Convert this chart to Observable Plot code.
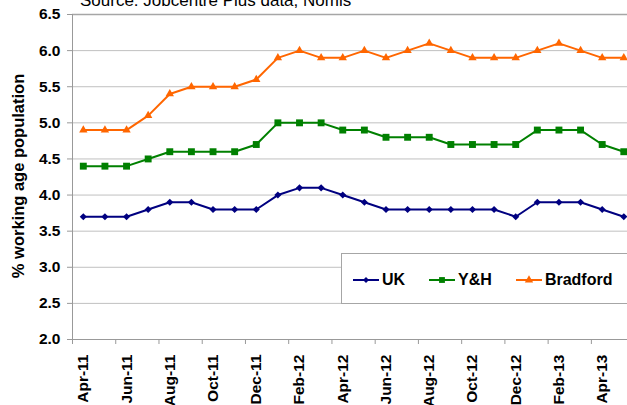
<!DOCTYPE html>
<html><head><meta charset="utf-8">
<script src="https://cdn.jsdelivr.net/npm/d3@7"></script>
<script src="https://cdn.jsdelivr.net/npm/@observablehq/plot@0.6"></script>
<style>
body{margin:0;background:#fff;font-family:"Liberation Sans",Arial,sans-serif;}
#wrap{position:relative;width:627px;height:405px;overflow:hidden;background:#fff;}
#title{position:absolute;left:80px;top:-8px;font-size:17px;line-height:17px;white-space:nowrap;color:#000;}
#chart{position:absolute;left:0;top:0;}
#legend{position:absolute;left:341px;top:253px;width:287px;height:51px;box-sizing:border-box;border:1px solid #a6a6a6;background:#fff;display:flex;align-items:center;padding-left:11px;padding-top:2px;gap:24px;font-weight:bold;font-size:16px;color:#000;}
.item{display:flex;align-items:center;gap:3px;}
</style></head><body>
<div id="wrap"><div id="chart"></div><div id="title"></div><div id="legend"></div></div>
<script>
const titleText = "Source: Jobcentre Plus data, Nomis";
const yTitle = "% working age population";
const months = ["Apr-11","May-11","Jun-11","Jul-11","Aug-11","Sep-11","Oct-11","Nov-11","Dec-11",
  "Jan-12","Feb-12","Mar-12","Apr-12","May-12","Jun-12","Jul-12","Aug-12","Sep-12","Oct-12","Nov-12","Dec-12",
  "Jan-13","Feb-13","Mar-13","Apr-13","May-13"];
const uk = [3.7,3.7,3.7,3.8,3.9,3.9,3.8,3.8,3.8,4.0,4.1,4.1,4.0,3.9,3.8,3.8,3.8,3.8,3.8,3.8,3.7,3.9,3.9,3.9,3.8,3.7];
const yh = [4.4,4.4,4.4,4.5,4.6,4.6,4.6,4.6,4.7,5.0,5.0,5.0,4.9,4.9,4.8,4.8,4.8,4.7,4.7,4.7,4.7,4.9,4.9,4.9,4.7,4.6];
const bradford = [4.9,4.9,4.9,5.1,5.4,5.5,5.5,5.5,5.6,5.9,6.0,5.9,5.9,6.0,5.9,6.0,6.1,6.0,5.9,5.9,5.9,6.0,6.1,6.0,5.9,5.9];
const seriesNames = ["UK","Y&H","Bradford"];
const seriesValues = [uk, yh, bradford];
const colors = ["#000080","#008000","#FF6600"];
const symbols = ["diamond2","square","triangle"];
const radii = [3.2, 3.9, 3.1];
const yTicks = [2.0,2.5,3.0,3.5,4.0,4.5,5.0,5.5,6.0,6.5];

const rows = [];
seriesNames.forEach((s, k) => seriesValues[k].forEach((v, i) => rows.push({series: s, i, value: v})));

const labelIdx = months.map((m, i) => i).filter(i => i % 2 === 0);
const boundaryTicks = labelIdx.map(i => i - 0.5);
const step = 21.62;
const left = 72;

const font = '"Liberation Sans", Arial, sans-serif';
const marks = [
  Plot.gridY(yTicks, {stroke: "#c0c0c0", strokeOpacity: 1}),
  Plot.ruleY([6.5], {stroke: "#a6a6a6", strokeWidth: 1.6}),
  Plot.ruleY([2], {stroke: "#999"}),
  Plot.ruleX([-0.5], {stroke: "#999"}),
  Plot.axisY({ticks: yTicks, tickFormat: ".1f", tickSize: 5, tickPadding: 7, stroke: "#999", fontSize: 15.5, fontWeight: "bold", label: null}),
  Plot.axisX({ticks: boundaryTicks, tickFormat: () => "", tickSize: 5, stroke: "#999", label: null}),
  Plot.axisX({ticks: labelIdx, tickFormat: i => months[i], tickSize: 0, tickPadding: 15, tickRotate: -90, fontSize: 15.5, fontWeight: "bold", label: null}),
  Plot.text([yTitle], {frameAnchor: "left", textAnchor: "middle", lineAnchor: "middle", dx: -54, dy: -1, rotate: -90, fontSize: 16.5, fontWeight: "bold", fill: "#000"})
];
seriesNames.forEach((s, k) => {
  const d = rows.filter(r => r.series === s);
  marks.push(Plot.line(d, {x: "i", y: "value", stroke: colors[k], strokeWidth: 2}));
  marks.push(Plot.dot(d, {x: "i", y: "value", fill: colors[k], stroke: "none", symbol: () => symbols[k], r: radii[k]}));
});

const chart = Plot.plot({
  width: 627, height: 405,
  marginTop: 14, marginBottom: 66, marginLeft: left, marginRight: 0,
  style: {fontFamily: font, color: "#000", background: "transparent", overflow: "visible"},
  x: {type: "linear", domain: [-0.5, months.length - 0.5], range: [left, left + months.length * step], axis: null},
  y: {domain: [2, 6.5], axis: null},
  symbol: {type: "identity"},
  marks
});
document.getElementById("chart").appendChild(chart);
document.getElementById("title").textContent = titleText;

const legend = document.getElementById("legend");
const legendSym = {diamond2: d3.symbolDiamond2, square: d3.symbolSquare, triangle: d3.symbolTriangle};
const legendSize = [24, 34, 30];
seriesNames.forEach((s, k) => {
  const item = document.createElement("div");
  item.className = "item";
  const path = d3.symbol(legendSym[symbols[k]], legendSize[k])();
  item.innerHTML = `<svg width="26" height="12" viewBox="0 0 26 12"><line x1="0" x2="26" y1="6" y2="6" stroke="${colors[k]}" stroke-width="2"/><path transform="translate(13,6)" d="${path}" fill="${colors[k]}"/></svg><span></span>`;
  item.querySelector("span").textContent = s;
  legend.appendChild(item);
});
</script>
</body></html>
